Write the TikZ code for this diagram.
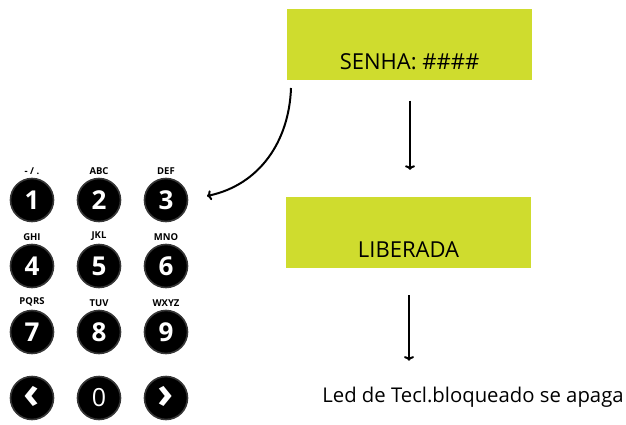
\documentclass[tikz,border=0pt]{standalone}
\usepackage{fontspec}
\setmainfont{Open Sans}
\usetikzlibrary{positioning,calc,arrows.meta}
\definecolor{screenlime}{RGB}{207,220,46}
\definecolor{keyrim}{RGB}{55,55,55}

\begin{document}
\begin{tikzpicture}[x=1pt, y=1pt, ->, >={To[length=4.5pt,width=10pt]}]
	\tikzstyle{screen} = [rectangle, fill=screenlime, minimum width=245pt, minimum height=71pt, inner sep=0pt, text height=49pt, text depth=0pt, font=\fontsize{22}{26}\selectfont]
	\tikzstyle{key} = [circle, fill=black, draw=keyrim, line width=1.6pt, minimum size=43pt, inner sep=0pt, text=white, font=\fontsize{26}{28}\selectfont\bfseries]
	\tikzstyle{letters} = [label distance=0pt, font=\fontsize{9.5}{11}\selectfont\bfseries]
	\tikzstyle{flow} = [line width=2pt]
	\useasboundingbox (0,0) rectangle (626,-425);
	% display states
	\node (senha)[screen] at (409.5,-45) {SENHA: \#\#\#\#};
	\node (liberada)[screen] at (408.5,-232.5) {LIBERADA};
	\node (led)[font=\fontsize{20.3}{24}\selectfont, inner sep=0pt] at (473,-397) {Led de Tecl.bloqueado se apaga};
	% keypad
	\foreach \d/\abc/\col/\row in {1/{- / .}/0/0, 2/ABC/1/0, 3/DEF/2/0,
		4/GHI/0/1, 5/JKL/1/1, 6/MNO/2/1,
		7/PQRS/0/2, 8/TUV/1/2, 9/WXYZ/2/2}
		\node (k\d)[key, label={[letters]above:\abc}] at (32+67*\col,-200-66*\row) {\d};
	\node (kback)[key, font=\fontsize{44}{44}\selectfont\bfseries] at (32,-398) {\raisebox{2pt}{‹}};
	\node (k0)[key, font=\fontsize{25}{28}\selectfont] at (99,-398) {0};
	\node (kfwd)[key, font=\fontsize{44}{44}\selectfont\bfseries] at (166,-398) {\raisebox{2pt}{›}};
	% connectors
	\coordinate (typed) at (291,-88);
	\coordinate (pad) at (207,-196);
	\draw [flow, out=-92, in=12] (typed) to (pad);
	\draw [flow, shorten <=20pt, shorten >=27pt] (senha.south -| 410,0) -- (liberada.north -| 410,0);
	\draw [flow, shorten <=27pt, shorten >=26pt] (liberada.south -| 409,0) -- (led.north -| 409,0);
\end{tikzpicture}
\end{document}
